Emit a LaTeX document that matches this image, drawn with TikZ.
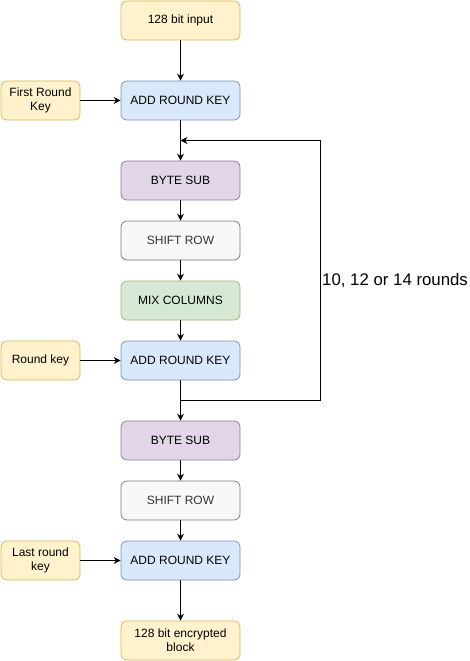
\documentclass[tikz,border=0pt]{standalone}
\usepackage{fontspec}
\setmainfont{Liberation Sans}
\usetikzlibrary{arrows.meta,positioning}
\definecolor{keyfill}{HTML}{FFF2CC}
\definecolor{keyline}{HTML}{D6B656}
\definecolor{addfill}{HTML}{DAE8FC}
\definecolor{addline}{HTML}{7C8FAF}
\definecolor{subfill}{HTML}{E1D5E7}
\definecolor{subline}{HTML}{8E7A9C}
\definecolor{shiftfill}{HTML}{F8F8F8}
\definecolor{shiftline}{HTML}{777777}
\definecolor{shifttext}{HTML}{333333}
\definecolor{mixfill}{HTML}{D5E8D4}
\definecolor{mixline}{HTML}{B5A978}

\begin{document}
\begin{tikzpicture}[x=1pt,y=-1pt,
  box/.style={draw,rounded corners=6pt,line width=0.7pt,minimum width=119pt,minimum height=39pt,
    inner sep=0pt,align=center,font=\fontsize{12}{14}\selectfont},
  keybox/.style={box,minimum width=79pt,draw=keyline,fill=keyfill},
  addbox/.style={box,draw=addline,fill=addfill},
  subbox/.style={box,draw=subline,fill=subfill},
  shiftbox/.style={box,draw=shiftline,fill=shiftfill,text=shifttext},
  mixbox/.style={box,draw=mixline,fill=mixfill},
  flow/.style={-{Stealth[length=7pt,width=7pt]},line width=0.8pt}]
\useasboundingbox (0,0) rectangle (470,661);

% main column
\node[keybox,minimum width=119pt] (inp) at (180.5,20.5){128 bit input};
\node[addbox] (ark1) at (180.5,100.5){ADD ROUND KEY};
\node[subbox] (bs1) at (180.5,180.5){BYTE SUB};
\node[shiftbox] (sr1) at (180.5,240.5){SHIFT ROW};
\node[mixbox] (mix) at (180.5,300.5){MIX COLUMNS};
\node[addbox] (ark2) at (180.5,360.5){ADD ROUND KEY};
\node[subbox] (bs2) at (180.5,440.5){BYTE SUB};
\node[shiftbox] (sr2) at (180.5,500.5){SHIFT ROW};
\node[addbox] (ark3) at (180.5,560.5){ADD ROUND KEY};
\node[keybox,minimum width=119pt] (outp) at (180.5,640.5){128 bit encrypted\\block};

% keys
\node[keybox] (key1) at (40.5,100.5){First Round\\Key};
\node[keybox] (key2) at (40.5,360.5){Round key};
\node[keybox] (key3) at (40.5,560.5){Last round\\key};

\foreach \a/\b in {inp/ark1,ark1/bs1,bs1/sr1,sr1/mix,mix/ark2,ark2/bs2,bs2/sr2,sr2/ark3,ark3/outp}{
\draw[flow] (\a) -- (\b);
}
\foreach \k/\t in {key1/ark1,key2/ark2,key3/ark3}{
\draw[flow] (\k) -- (\t);
}

% round loop
\coordinate (loopout) at (180.5,400.5);
\coordinate (loopin) at (180.5,140.5);
\draw[flow] (loopout) -- ++(140,0) |- (loopin);
\node[anchor=west,inner sep=0pt,font=\fontsize{16.8}{18}\selectfont] (rounds) at (322,280.5){10, 12 or 14 rounds};
\end{tikzpicture}
\end{document}
